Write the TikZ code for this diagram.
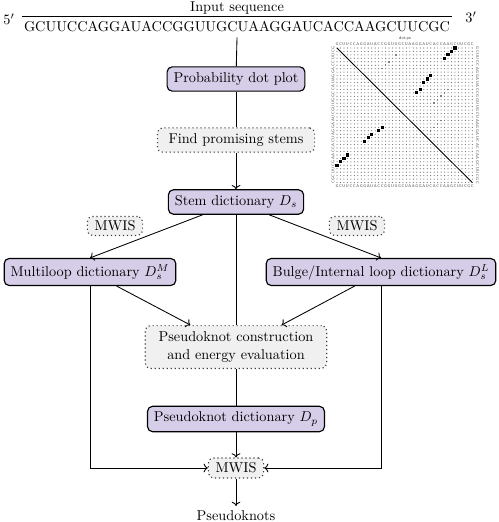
\documentclass[tikz,border=0pt]{standalone}
\usepackage{tikz}
\usetikzlibrary{positioning, arrows.meta, calc}

\definecolor{boxpurple}{RGB}{214,206,232}
\definecolor{boxgray}{RGB}{240,240,240}

\begin{document}
\begin{tikzpicture}[
    x=0.7pt, y=-0.7pt,
    stage/.style={rectangle, rounded corners=3.5pt, draw=black, thick,
                  fill=boxpurple, inner xsep=4.5pt, inner ysep=4pt},
    task/.style={rectangle, rounded corners=3.5pt, draw=black!75, dotted, thick,
                 fill=boxgray, inner xsep=5pt, inner ysep=3pt, align=center},
    arrow/.style={->, semithick},
    link/.style={semithick},
    seqletter/.style={font=\sffamily\fontsize{2.8}{2.8}\selectfont, inner sep=0pt, text=black!75},
    weak/.style={fill=black!50}
  ]
    \useasboundingbox (0,0) rectangle (499,522);

    % Input sequence
    \node[inner xsep=1pt] (seq) at (237,27) {GCUUCCAGGAUACCGGUUGCUAAGGAUCACCAAGCUUCGC};
    \node (title) at (237,8) {Input sequence};
    \node (five) at (9,19) {$5'$};
    \node (three) at (471,17) {$3'$};
    \draw[thick] (seq.north west) -- (seq.north east);

    % Dot plot of base pair probabilities
    \node[font=\sffamily\fontsize{3}{3}\selectfont, text=black!75, inner sep=0pt] (dotps) at (405,38) {dot.ps};
    \foreach \c [count=\k] in {G,C,U,U,C,C,A,G,G,A,U,A,C,C,G,G,U,U,G,C,U,A,A,G,G,A,U,C,A,C,C,A,A,G,C,U,U,C,G,C} {
      \node[seqletter] at ({337+(\k-1)*3.47},44) {\c};
      \node[seqletter] at ({337+(\k-1)*3.47},186.5) {\c};
      \node[seqletter, rotate=90] at (333,{48+(\k-1)*3.45}) {\c};
      \node[seqletter, rotate=-90] at (477.5,{48+(\k-1)*3.45}) {\c};
    }
    \foreach \i in {1,...,40}
      \foreach \j in {1,...,40}
        \fill[black!55] ({337+(\i-1)*3.47},{48+(\j-1)*3.45}) circle[radius=0.42pt];
    \draw[semithick] (337,48) -- (472.3,182.6);
    % stems (upper right and mirrored)
    \foreach \i/\j in {1/35,2/34,3/33,4/32,9/28,10/27,11/26,13/25,14/24} {
      \fill ({337+(\j-1)*3.47-1.6},{48+(\i-1)*3.45-1.6}) rectangle ++(3.2,3.2);
      \fill ({337+(\i-1)*3.47-1.6},{48+(\j-1)*3.45-1.6}) rectangle ++(3.2,3.2);
    }
    % weak pairs
    \foreach \i/\j in {2/19,3/18,4/17,5/16,6/15,7/14,13/33,14/32,15/31,16/30,17/29,22/31,23/30,24/29,25/28}
      \fill[weak] ({337+(\j-1)*3.47-0.8},{48+(\i-1)*3.45-0.8}) rectangle ++(1.6,1.6);

    % Pipeline
    \node[stage] (prob) at (236,79) {Probability dot plot};
    \node[task, minimum width=110pt, minimum height=17pt] (find) at (236,140) {Find promising stems};
    \node[stage] (stem) at (236,202) {Stem dictionary $D_s$};

    % Dictionaries
    \node[task] (mwisl) at (115,226) {MWIS};
    \node[task] (mwisr) at (357,226) {MWIS};
    \node[stage] (multi) at (90,272) {Multiloop dictionary $D_s^M$};
    \node[stage] (bulge) at (381,272) {Bulge/Internal loop dictionary $D_s^L$};

    % Pseudoknots
    \node[task, minimum width=127pt, minimum height=30pt] (construct) at (236,347)
      {Pseudoknot construction\\and energy evaluation};
    \node[stage] (pdict) at (236,419) {Pseudoknot dictionary $D_p$};
    \node[task, minimum height=14pt] (mwis) at (236,468) {MWIS};
    \node (out) at (236,516) {Pseudoknots};

    % Arrows
    \draw[link] (seq.south) -- (prob);
    \draw[link] (prob) -- (find);
    \draw[arrow] (find) -- (stem);
    \draw[arrow] (stem) -- (multi.north);
    \draw[arrow] (stem) -- (bulge.north);
    \draw[link] (stem) -- (construct);
    \draw[arrow] (multi) -- ($(construct.north)!0.5!(construct.north west)$);
    \draw[arrow] (bulge) -- ($(construct.north)!0.5!(construct.north east)$);
    \draw[link] (construct) -- (pdict);
    \draw[arrow] (pdict) -- (mwis);
    \draw[arrow] (multi) |- (mwis);
    \draw[arrow] (bulge) |- (mwis);
    \draw[arrow] (mwis) -- (out);

  \end{tikzpicture}
\end{document}
